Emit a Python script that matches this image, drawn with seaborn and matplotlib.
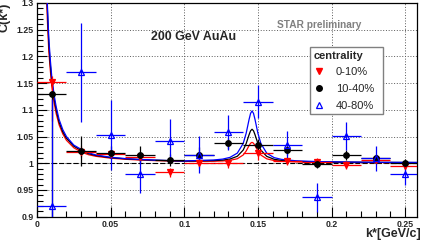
import numpy as np
import pandas as pd
import matplotlib
matplotlib.use("Agg")
import matplotlib.pyplot as plt
import seaborn as sns
from matplotlib.ticker import MultipleLocator, FuncFormatter
from matplotlib.lines import Line2D

# measured points (bin centres, half bin width 0.01)
k_pts = [0.01, 0.03, 0.05, 0.07, 0.09, 0.11, 0.13, 0.15, 0.17, 0.19, 0.21, 0.23, 0.25]

c_0_10 = [1.153, 1.022, 1.017, 1.011, 0.983, 1.000, 1.000, 1.020, 1.004, 1.002, 0.997, 1.007, 0.995]
lo_0_10 = [0.073, 0.010, 0.008, 0.008, 0.008, 0.008, 0.008, 0.014, 0.008, 0.008, 0.008, 0.008, 0.008]
hi_0_10 = [0.010, 0.010, 0.008, 0.008, 0.008, 0.008, 0.008, 0.014, 0.008, 0.008, 0.008, 0.008, 0.008]

c_10_40 = [1.130, 1.023, 1.020, 1.0155, 1.006, 1.0155, 1.0375, 1.034, 1.025, 0.999, 1.0155, 1.009, 1.000]
lo_10_40 = [0.240, 0.028, 0.012, 0.017, 0.012, 0.015, 0.010, 0.012, 0.010, 0.008, 0.010, 0.008, 0.008]
hi_10_40 = [0.005, 0.028, 0.012, 0.017, 0.012, 0.015, 0.010, 0.012, 0.010, 0.008, 0.010, 0.008, 0.008]

c_40_80 = [0.920, 1.170, 1.053, 0.980, 1.042, 1.016, 1.058, 1.115, 1.035, 0.936, 1.051, 1.009, 0.980]
lo_40_80 = [0.050, 0.092, 0.065, 0.036, 0.040, 0.035, 0.033, 0.031, 0.025, 0.027, 0.027, 0.023, 0.020]
hi_40_80 = [0.200, 0.092, 0.065, 0.036, 0.040, 0.035, 0.033, 0.031, 0.025, 0.027, 0.027, 0.023, 0.020]

# fit curves
k_fit = [0.006, 0.007, 0.008, 0.009, 0.010, 0.0115, 0.013, 0.015, 0.0175, 0.020,
         0.025, 0.030, 0.035, 0.040, 0.050, 0.060, 0.070, 0.080, 0.090, 0.100,
         0.110, 0.120, 0.126, 0.131, 0.136, 0.140, 0.142, 0.144, 0.145, 0.146,
         0.147, 0.148, 0.150, 0.152, 0.156, 0.161, 0.166, 0.176, 0.190, 0.210,
         0.230, 0.258]
fit_0_10 = [1.360, 1.270, 1.210, 1.175, 1.145, 1.115, 1.093, 1.072, 1.055, 1.043,
            1.029, 1.021, 1.016, 1.013, 1.0095, 1.0075, 1.006, 1.005, 1.0042, 1.0036,
            1.0037, 1.0038, 1.0043, 1.0055, 1.0085, 1.0155, 1.0229, 1.0331, 1.0375, 1.0392,
            1.0375, 1.0331, 1.0229, 1.0154, 1.0083, 1.0051, 1.0038, 1.0026, 1.0020, 1.0016,
            1.0013, 1.0011]
fit_10_40 = [1.380, 1.290, 1.225, 1.185, 1.155, 1.123, 1.100, 1.077, 1.059, 1.047,
             1.032, 1.024, 1.018, 1.0145, 1.0105, 1.0083, 1.0068, 1.0057, 1.0048, 1.0041,
             1.0045, 1.0050, 1.0059, 1.0079, 1.0131, 1.0247, 1.0368, 1.0536, 1.0608, 1.0637,
             1.0608, 1.0536, 1.0368, 1.0246, 1.0129, 1.0075, 1.0054, 1.0036, 1.0026, 1.0020,
             1.0017, 1.0014]
fit_40_80 = [1.400, 1.300, 1.235, 1.195, 1.163, 1.130, 1.106, 1.082, 1.063, 1.050,
             1.034, 1.026, 1.0195, 1.0155, 1.0112, 1.0088, 1.0072, 1.0060, 1.0050, 1.0043,
             1.0053, 1.0062, 1.0078, 1.0110, 1.0190, 1.0371, 1.0560, 1.0822, 1.0934, 1.0979,
             1.0934, 1.0822, 1.0560, 1.0370, 1.0188, 1.0106, 1.0073, 1.0046, 1.0032, 1.0024,
             1.0019, 1.0016]

labels = ["0-10%", "10-40%", "40-80%"]
pal = {"0-10%": "#ff0000", "10-40%": "#000000", "40-80%": "#0000ff"}

sns.set_style("white")
plt.rcParams["font.family"] = ["Liberation Sans", "DejaVu Sans"]

fig = plt.figure(figsize=(4.21, 2.40), dpi=100)
ax = fig.add_axes([37 / 421, 1 - 216.7 / 240, 380 / 421, 213.7 / 240])

ax.set_xlim(0, 0.258)
ax.set_ylim(0.9, 1.3)
ax.grid(True, which="major", color="0.35", ls=(0, (1, 1.8)), lw=0.7)
ax.axhline(1.0, color="black", ls=(0, (4.5, 2)), lw=0.8, zorder=2)

df_fit = pd.DataFrame({
    "k": k_fit * 3,
    "C": fit_0_10 + fit_10_40 + fit_40_80,
    "centrality": [labels[0]] * len(k_fit) + [labels[1]] * len(k_fit) + [labels[2]] * len(k_fit),
})
sns.lineplot(data=df_fit, x="k", y="C", hue="centrality", palette=pal, sort=False,
             estimator=None, lw=0.9, legend=False, ax=ax, zorder=3)

series = [
    (c_0_10, lo_0_10, hi_0_10, "v", pal["0-10%"], pal["0-10%"], 4.3),
    (c_10_40, lo_10_40, hi_10_40, "o", pal["10-40%"], pal["10-40%"], 4.0),
    (c_40_80, lo_40_80, hi_40_80, "^", "none", pal["40-80%"], 4.8),
]
for c, lo, hi, m, fc, ec, ms in series:
    ax.errorbar(k_pts, c, yerr=[lo, hi], xerr=0.01, fmt=m, mfc=fc, mec=ec, ecolor=ec,
                ms=ms, mew=0.9, elinewidth=0.9, capsize=0, zorder=4)

ax.xaxis.set_major_locator(MultipleLocator(0.05))
ax.xaxis.set_minor_locator(MultipleLocator(0.01))
ax.yaxis.set_major_locator(MultipleLocator(0.05))
ax.yaxis.set_minor_locator(MultipleLocator(0.01))
fmt = FuncFormatter(lambda v, p: f"{v:g}")
ax.xaxis.set_major_formatter(fmt)
ax.yaxis.set_major_formatter(fmt)
ax.tick_params(which="both", direction="in", bottom=True, left=True, top=False, right=False,
               width=0.8, color="black")
ax.tick_params(which="major", length=7, labelsize=6.3, pad=2.5)
ax.tick_params(which="minor", length=4)
for lab in ax.get_xticklabels() + ax.get_yticklabels():
    lab.set_fontweight("bold")
for s in ax.spines.values():
    s.set_color("black")
    s.set_linewidth(0.9)

ax.set_ylabel("")
fig.text(10.5 / 421, 1 - 2.5 / 240, "C(k*)", rotation=90, fontsize=9, fontweight="bold",
         ha="right", va="top")
ax.set_xlabel("k*[GeV/c]", loc="right", fontsize=9, fontweight="bold")
ax.xaxis.set_label_coords(1.009, -0.052)

fig.text(150.7 / 421, 1 - 39.5 / 240, "200 GeV AuAu", fontsize=8.9, fontweight="bold",
         ha="left", va="baseline")
fig.text(276.7 / 421, 1 - 28.3 / 240, "STAR preliminary", fontsize=7.3, fontweight="bold",
         color="#808080", ha="left", va="baseline")

handles = [
    Line2D([], [], ls="none", marker="v", color=pal["0-10%"], ms=4.3),
    Line2D([], [], ls="none", marker="o", color=pal["10-40%"], ms=4.0),
    Line2D([], [], ls="none", marker="^", mfc="none", mec=pal["40-80%"], mew=0.9, ms=4.8),
]
leg = ax.legend(handles, labels, title="centrality", loc="upper left",
                bbox_to_anchor=(310 / 421, 1 - 111.7 / 240, 73 / 421, 65 / 240),
                bbox_transform=fig.transFigure, mode="expand",
                fontsize=8, title_fontproperties={"weight": "bold", "size": 8},
                alignment="left", frameon=True, fancybox=False, edgecolor="#808080",
                framealpha=1, borderpad=0.35, labelspacing=0.6, handlelength=1.0,
                handletextpad=1.0, borderaxespad=0)
leg.get_frame().set_linewidth(1.0)

fig.savefig("out.png", dpi=100, facecolor="white")
